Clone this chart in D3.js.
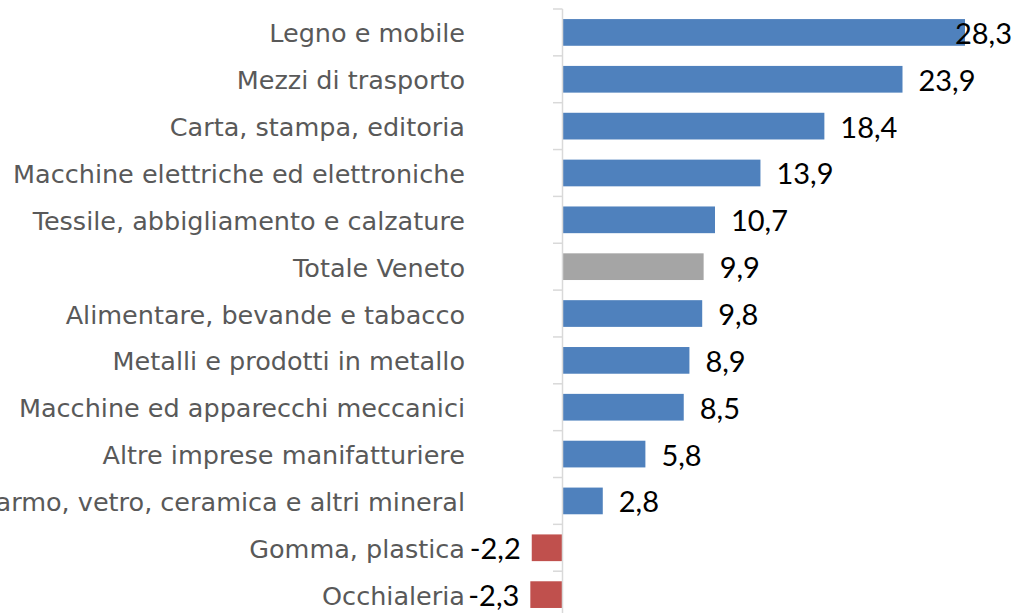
<!DOCTYPE html>
<html><head><meta charset="utf-8">
<script src="https://cdn.jsdelivr.net/npm/d3@7"></script>
<style>html,body{margin:0;padding:0;background:#fff;overflow:hidden}</style>
</head><body>
<svg id="chart" width="1014" height="613"></svg>
<script>
const categories = [
  "Legno e mobile",
  "Mezzi di trasporto",
  "Carta, stampa, editoria",
  "Macchine elettriche ed elettroniche",
  "Tessile, abbigliamento e calzature",
  "Totale Veneto",
  "Alimentare, bevande e tabacco",
  "Metalli e prodotti in metallo",
  "Macchine ed apparecchi meccanici",
  "Altre imprese manifatturiere",
  "Marmo, vetro, ceramica e altri mineral",
  "Gomma, plastica",
  "Occhialeria"
];
const values = [28.3, 23.9, 18.4, 13.9, 10.7, 9.9, 9.8, 8.9, 8.5, 5.8, 2.8, -2.2, -2.3];
const totalLabel = "Totale Veneto";

const data = categories.map((c, i) => ({cat: c, v: values[i]}));
const svg = d3.select("#chart");

const x = d3.scaleLinear().domain([0, 28.3]).range([563, 965]);
const y = d3.scaleBand().domain(categories).range([9, 9 + 13 * 46.85])
  .paddingInner(0.43).paddingOuter(0.215);

const color = d => d.cat === totalLabel ? "#a5a5a5" : (d.v < 0 ? "#c0504d" : "#4f81bd");

// bars
svg.append("g").selectAll("rect").data(data).join("rect")
  .attr("x", d => x(Math.min(0, d.v)))
  .attr("y", d => y(d.cat))
  .attr("width", d => Math.abs(x(d.v) - x(0)))
  .attr("height", y.bandwidth())
  .attr("fill", color);

// axis line + ticks at band boundaries
const axisX = 562.5;
const ax = svg.append("g").attr("stroke", "#d9d9d9").attr("stroke-width", 1.5);
ax.append("line").attr("x1", axisX).attr("x2", axisX)
  .attr("y1", y.range()[0]).attr("y2", y.range()[1]);
const bounds = categories.map(c => y(c) - y.step() * y.paddingOuter());
ax.selectAll("line.t").data(bounds).join("line").attr("class", "t")
  .attr("x1", 553).attr("x2", axisX).attr("y1", d => d).attr("y2", d => d);

// category labels
svg.append("g").selectAll("text").data(data).join("text")
  .attr("x", 465)
  .attr("y", d => y(d.cat) + y.bandwidth() / 2 + 10)
  .attr("text-anchor", "end")
  .attr("font-family", "DejaVu Sans")
  .attr("font-size", 25.5)
  .attr("fill", "#595959")
  .text(d => d.cat);

// value labels
const fmt = v => String(v).replace(".", ",");
svg.append("g").selectAll("text").data(data).join("text")
  .attr("y", d => y(d.cat) + y.bandwidth() / 2 + 11.5)
  .attr("font-family", "Lato")
  .attr("font-size", 29)
  .attr("fill", "#000")
  .text(d => fmt(d.v))
  .each(function(d) {
    const t = d3.select(this);
    if (d.v < 0) {
      t.attr("text-anchor", "end").attr("x", x(d.v) - 11);
    } else {
      const w = this.getComputedTextLength();
      let px = x(d.v) + 16;
      if (px + w > 1012) px = 1012 - w;
      t.attr("text-anchor", "start").attr("x", px);
    }
  });
</script>
</body></html>
